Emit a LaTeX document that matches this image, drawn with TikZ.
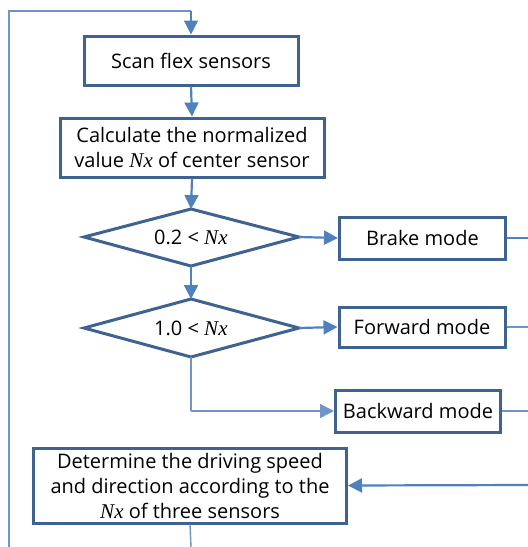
\documentclass[tikz,border=0pt]{standalone}
\usepackage{fontspec}
\setmainfont{Open Sans}
\newfontfamily\nxfont{Liberation Serif}
\usetikzlibrary{shapes.geometric,arrows.meta}
\definecolor{boxc}{HTML}{3F6391}
\definecolor{linec}{HTML}{4F81BD}
\definecolor{thinc}{HTML}{6F95C8}
\newcommand{\Nx}{{\nxfont\itshape\fontsize{21}{25}\selectfont N\kern0.3pt x}}
\tikzset{
  txt/.style={font=\fontsize{20}{25}\selectfont},
  procbox/.style={draw=boxc, line width=3pt, fill=white, align=center, inner sep=2pt, txt},
  dshape/.style={draw=boxc, line width=3pt, line join=miter, fill=white},
  flow/.style={draw=linec, line width=2.2pt, -{Triangle[length=14pt,width=14pt]}},
  thin/.style={draw=thinc, line width=1.4pt},
  thinarrow/.style={draw=thinc, line width=1.4pt, -{Triangle[length=14pt,width=14pt]}},
}
\begin{document}
\begin{tikzpicture}[x=1pt,y=-1pt]
\useasboundingbox (0,0) rectangle (528,547);
\node[procbox, minimum width=214pt, minimum height=49pt] (scan) at (191,60.5) {Scan flex sensors};
\node[procbox, minimum width=264pt, minimum height=59pt] (calc) at (192,147.5) {Calculate the normalized\\value \Nx\ of center sensor};
\path[dshape] (84,237) -- (191,209) -- (299,237) -- (191,266) -- cycle;
\node[txt] (d1t) at (191,237) {0.2 < \Nx};
\coordinate (d1top) at (191,209);
\coordinate (d1right) at (299,237);
\coordinate (d1bot) at (191,266);
\path[dshape] (84,328) -- (191,299) -- (299,328) -- (191,357) -- cycle;
\node[txt] (d2t) at (191,328) {1.0 < \Nx};
\coordinate (d2top) at (191,299);
\coordinate (d2right) at (299,328);
\coordinate (d2bot) at (191,357);
\node[procbox, minimum width=166pt, minimum height=42pt] (brake) at (422.5,238) {Brake mode};
\node[procbox, minimum width=166pt, minimum height=40pt] (fwd) at (422,327) {Forward mode};
\node[procbox, minimum width=165pt, minimum height=42pt] (bwd) at (418,411) {Backward mode};
\node[procbox, minimum width=313pt, minimum height=75pt] (det) at (190,485.5) {Determine the driving speed\\and direction according to the\\\Nx\ of three sensors};
\coordinate (tl) at (9,11);
\coordinate (bl) at (9,547);
\coordinate (tc) at (191,11);
\coordinate (bb) at (191,547);
\coordinate (e1) at (528,238);
\coordinate (e2) at (528,327);
\coordinate (e3) at (528,411);
\coordinate (e4) at (528,485);
\coordinate (bend) at (191,411);
% loop
\draw[thin] (bl) -- (tl) -- (tc);
\draw[thinarrow, draw=linec] (tc) -- (scan.north);
\draw[flow] (scan.south) -- (calc.north);
\draw[flow] (calc.south) -- (d1top);
\draw[flow] (d1right) -- (brake.west);
\draw[flow] (d1bot) -- (d2top);
\draw[flow] (d2right) -- (fwd.west);
\draw[thin] (d2bot) -- (bend);
\draw[thinarrow] (bend) -- (bwd.west);
\draw[draw=linec, line width=1.4pt] (brake.east) -- (e1);
\draw[thin] (fwd.east) -- (e2);
\draw[thin] (bwd.east) -- (e3);
\draw[flow] (e4) -- (det.east);
\draw[thin] (det.south) -- (bb);
\end{tikzpicture}
\end{document}
